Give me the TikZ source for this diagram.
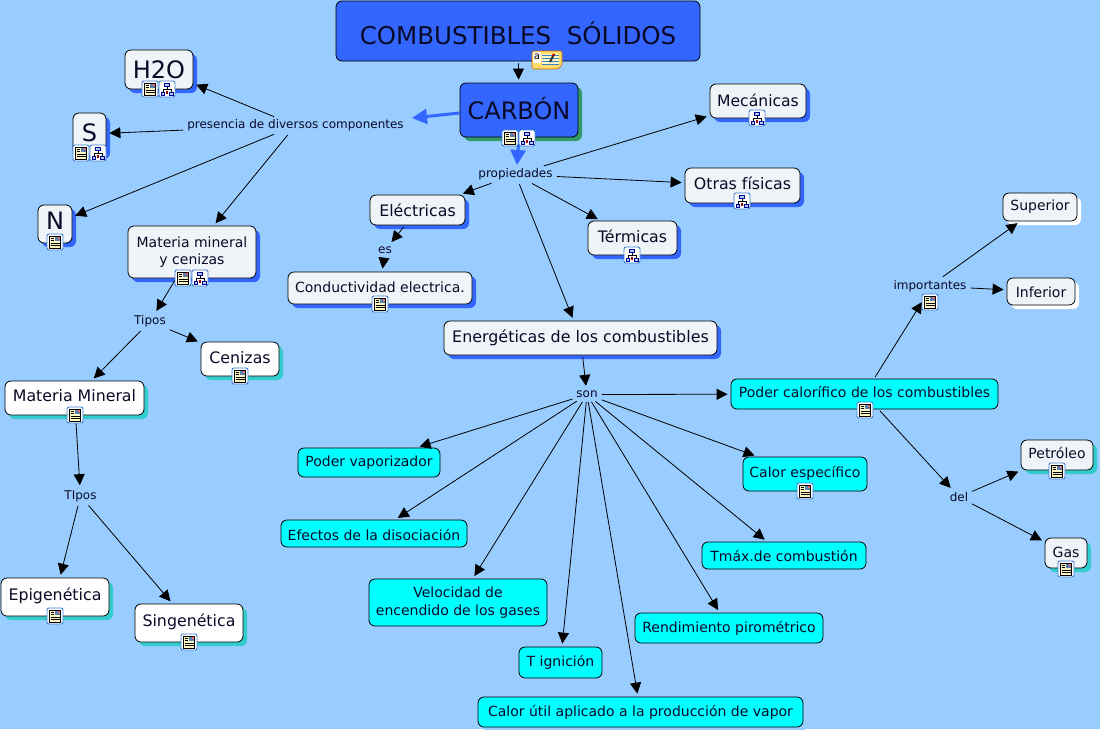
\documentclass[tikz,border=0pt]{standalone}
\usepackage{fontspec}
\setmainfont{DejaVu Sans}
\usetikzlibrary{arrows.meta}
\definecolor{bg}{HTML}{99CCFF}
\definecolor{royal}{HTML}{3366FF}
\definecolor{pale}{HTML}{EEF4F7}
\definecolor{aqua}{HTML}{00FFFF}
\definecolor{teal2}{HTML}{33CCCC}
\definecolor{green2}{HTML}{339966}
\definecolor{ink}{HTML}{0A0A28}
\definecolor{iconblue}{HTML}{3F7FD0}
\definecolor{page}{HTML}{FFF8C0}
\definecolor{notey}{HTML}{FFDD66}
\tikzset{x=1pt,y=-1pt,
 link/.style={draw=black,line width=0.8pt,-{Triangle[length=11pt,width=11pt]},shorten >=3pt,shorten <=2pt},
 thicklink/.style={draw=royal,line width=3pt,-{Triangle[length=15pt,width=15pt]}},
 lab/.style={font=\fontsize{12}{14}\selectfont,text=ink,inner sep=2pt},
 box/.style={draw=black,line width=0.8pt,rounded corners=6pt,align=center,text=ink,inner sep=0pt}}
% name, x1,y1,x2,y2, fill, shadow, size, text
\newcommand{\cnode}[9]{%
 \fill[#7,rounded corners=6pt] ({#2+4},{#3+4}) rectangle ({#4+4},{#5+4});
 \node[box,fill=#6,minimum width={(#4-#2)*1pt},minimum height={(#5-#3)*1pt},font=\fontsize{#8}{17.5}\selectfont] (#1) at ({(#2+#4)/2},{(#3+#5)/2}) {#9};}
\newcommand{\up}[2]{\raisebox{#1pt}[\height][\depth]{#2}}
\newcommand{\iconframe}[2]{%
 \fill[white,draw=iconblue,line width=0.9pt,rounded corners=2pt] ({#1-8},{#2-8}) rectangle ({#1+8},{#2+8});}
\newcommand{\docicon}[2]{\iconframe{#1}{#2}%
 \fill[page,draw=black,line width=0.5pt] ({#1-5.5},{#2-6}) rectangle ({#1+5.5},{#2+6});
 \fill[iconblue!60!gray] ({#1},{#2-5.5}) rectangle ({#1+5},{#2-1});
 \fill[red!60!white] ({#1+3},{#2-5.5}) rectangle ({#1+5},{#2-3.5});
 \draw[black,line width=0.5pt] ({#1-4.5},{#2-4}) -- ({#1-1},{#2-4}) ({#1-4.5},{#2-1.5}) -- ({#1-1},{#2-1.5}) ({#1-4.5},{#2+1}) -- ({#1+4.5},{#2+1}) ({#1-4.5},{#2+3.5}) -- ({#1+4.5},{#2+3.5});}
\newcommand{\mapicon}[2]{\iconframe{#1}{#2}%
 \draw[black,line width=0.5pt] ({#1},{#2-3}) -- ({#1},{#2}) ({#1-4},{#2+3}) -- ({#1-4},{#2}) -- ({#1+4},{#2}) -- ({#1+4},{#2+3});
 \fill[iconblue!40!white,draw=blue!60!black,line width=0.6pt] ({#1-2.5},{#2-6}) rectangle ({#1+2.5},{#2-3});
 \fill[iconblue!40!white,draw=blue!60!black,line width=0.6pt] ({#1-6},{#2+3}) rectangle ({#1-2.5},{#2+6});
 \fill[iconblue!40!white,draw=blue!60!black,line width=0.6pt] ({#1+2.5},{#2+3}) rectangle ({#1+6},{#2+6});
 \fill[red!60!black] ({#1-1.2},{#2+1.5}) rectangle ({#1+1.2},{#2+5});}
\begin{document}
\begin{tikzpicture}
\useasboundingbox[fill=bg] (0,0) rectangle (1100,729);
% concepts
\cnode{title}{336}{1}{700}{61}{royal}{bg}{24.5}{\up{-2}{COMBUSTIBLES\ \ SÓLIDOS}}
\cnode{carbon}{460}{83}{578}{137}{royal}{green2}{24}{\up{1}{CARBÓN}}
\cnode{hdos}{125}{50}{193}{89}{pale}{royal}{24}{H2O}
\cnode{azufre}{73}{113}{106}{155}{pale}{royal}{24}{\up{1}{S}}
\cnode{nitro}{38}{205}{72}{243}{pale}{royal}{24}{\up{3}{N}}
\cnode{matcen}{128}{226}{256}{278}{pale}{royal}{14}{Materia mineral\\y cenizas}
\cnode{mec}{710}{84}{806}{118}{pale}{royal}{15.6}{\up{1}{Mecánicas}}
\cnode{otras}{685}{168}{800}{203}{pale}{royal}{15.8}{\up{2}{Otras físicas}}
\cnode{elec}{370}{195}{465}{225}{pale}{royal}{15.8}{Eléctricas}
\cnode{term}{588}{221}{677}{255}{pale}{royal}{15.8}{\up{2}{Térmicas}}
\cnode{cond}{288}{272}{472}{304}{pale}{royal}{14}{\up{1}{Conductividad electrica.}}
\cnode{ener}{444}{321}{717}{355}{pale}{royal}{15.9}{Energéticas de los combustibles}
\cnode{matmin}{5}{381}{144}{415}{white}{teal2}{15.8}{\up{2}{Materia Mineral}}
\cnode{ceni}{201}{342}{279}{376}{white}{teal2}{15.8}{\up{1}{Cenizas}}
\cnode{epi}{1}{578}{109}{616}{white}{teal2}{15.8}{\up{1}{Epigenética}}
\cnode{sin}{135}{604}{243}{642}{white}{teal2}{15.8}{\up{1}{Singenética}}
\cnode{vap}{298}{448}{440}{477}{aqua}{bg}{14}{Poder vaporizador}
\cnode{efe}{281}{520}{467}{547}{aqua}{bg}{14}{\up{-1}{Efectos de la disociación}}
\cnode{vel}{369}{579}{547}{626}{aqua}{bg}{14}{Velocidad de\\encendido de los gases}
\cnode{tign}{519}{647}{602}{678}{aqua}{bg}{14}{T ignición}
\cnode{util}{478}{697}{803}{727}{aqua}{bg}{14}{Calor útil aplicado a la producción de vapor}
\cnode{rend}{635}{613}{823}{643}{aqua}{bg}{14}{Rendimiento pirométrico}
\cnode{tmax}{702}{542}{866}{569}{aqua}{bg}{14}{Tmáx.de combustión}
\cnode{cesp}{743}{457}{867}{491}{aqua}{bg}{14}{\up{1}{Calor específico}}
\cnode{pcal}{731}{379}{998}{409}{aqua}{bg}{14}{\up{2}{Poder calorífico de los combustibles}}
\cnode{sup}{1003}{193}{1077}{221}{pale}{white}{14}{Superior}
\cnode{inf}{1007}{278}{1075}{305}{pale}{white}{14}{\up{-1}{Inferior}}
\cnode{petro}{1021}{440}{1093}{470}{pale}{teal2}{14}{\up{2}{Petróleo}}
\cnode{gas}{1045}{538}{1087}{568}{pale}{teal2}{14}{\up{1}{Gas}}
% linking phrases
\node[lab] (pres) at (295.5,125.5) {presencia de diversos componentes};
\node[lab] (prop) at (515.5,174.5) {propiedades};
\node[lab] (es) at (385,250) {es};
\node[lab] (tipos) at (150,321.5) {Tipos};
\node[lab] (tipos2) at (80.5,496) {TIpos};
\node[lab] (son) at (587,394.5) {son};
\node[lab] (impo) at (930,286) {importantes};
\node[lab] (del) at (959,497) {del};
\coordinate (presin) at (412,118);
\coordinate (propin) at (517,165);
\coordinate (impoin) at (922,302);
% connectors
\draw[link] (title) -- (carbon);
\draw[thicklink] ([yshift=-3pt]carbon.west) -- (presin);
\draw[thicklink] (carbon.south) -- (propin);
\foreach \t in {hdos,azufre,nitro,matcen} \draw[link] (pres) -- (\t);
\foreach \t in {mec,otras,term,ener,elec} \draw[link] (prop) -- (\t);
\draw[link] (elec) -- (es);
\draw[link] (es) -- (cond);
\draw[link] (matcen) -- (tipos);
\foreach \t in {matmin,ceni} \draw[link] (tipos) -- (\t);
\draw[link] (matmin) -- (tipos2);
\foreach \t in {epi,sin} \draw[link] (tipos2) -- (\t);
\draw[link] (ener) -- (son);
\foreach \t in {vap,efe,vel,tign,util,rend,tmax,cesp,pcal} \draw[link] (son) -- (\t);
\draw[link,shorten >=0pt] (pcal) -- (impoin);
\draw[link] (pcal) -- (del);
\foreach \t in {sup,inf} \draw[link] (impo) -- (\t);
\foreach \t in {petro,gas} \draw[link] (del) -- (\t);
% icons
\docicon{510}{138}\mapicon{527}{138}
\docicon{150}{89}\mapicon{167}{89}
\docicon{81}{153}\mapicon{98}{153}
\docicon{55}{242}
\docicon{183}{278}\mapicon{200}{278}
\mapicon{757}{118}
\mapicon{742}{201}
\mapicon{632}{255}
\docicon{380}{304}
\docicon{240}{376}
\docicon{75}{415}
\docicon{55}{616}
\docicon{189}{642}
\docicon{805}{491}
\docicon{865}{410}
\docicon{930}{302}
\docicon{1057}{471}
\docicon{1066}{569}
% note icon
\fill[notey,draw=orange!80!black,line width=0.6pt,rounded corners=1.5pt] (532,51) -- (562,51) -- (562,65) -- (558,69) -- (532,69) -- cycle;
\fill[white,rounded corners=1pt] (533,52) rectangle (541,63);
\node[font=\fontsize{10}{10}\selectfont,inner sep=0pt] (notea) at (537,57) {a};
\fill[page] (542,54) rectangle (559,65);
\draw[iconblue,line width=0.7pt] (542,55.5) -- (559,55.5) (542,58.5) -- (559,58.5) (542,61.5) -- (559,61.5) (542,64) -- (559,64);
\draw[black!80,line width=2pt] (554,54) -- (550,62);
\draw[red!80!black,line width=2pt] (554,54) -- (553,56);
\end{tikzpicture}
\end{document}
